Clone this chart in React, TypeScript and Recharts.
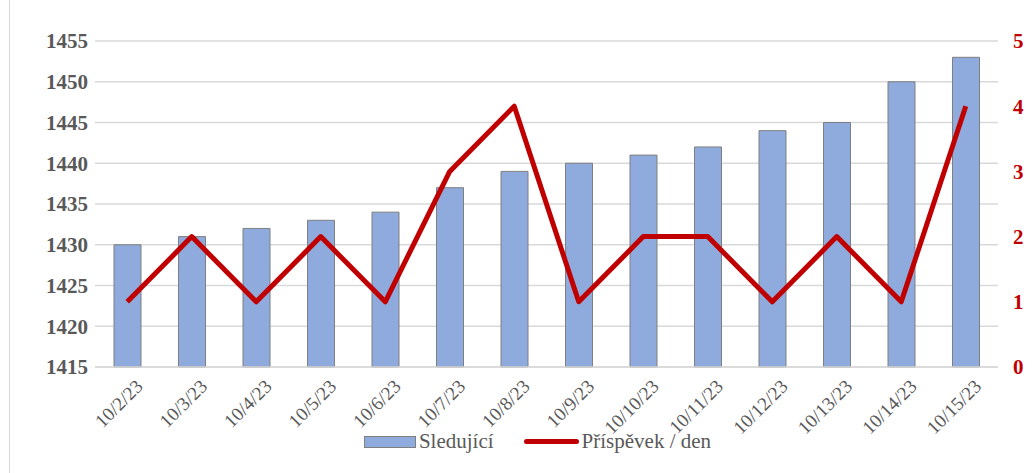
import { Bar, CartesianGrid, ComposedChart, Legend, Line, XAxis, YAxis } from "recharts";

const dates = ["10/2/23", "10/3/23", "10/4/23", "10/5/23", "10/6/23", "10/7/23", "10/8/23", "10/9/23", "10/10/23", "10/11/23", "10/12/23", "10/13/23", "10/14/23", "10/15/23"];
const followers = [1430, 1431, 1432, 1433, 1434, 1437, 1439, 1440, 1441, 1442, 1444, 1445, 1450, 1453];
const perDay = [1, 2, 1, 2, 1, 3, 4, 1, 2, 2, 1, 2, 1, 4];
const leftTicks = [1415, 1420, 1425, 1430, 1435, 1440, 1445, 1450, 1455];
const rightTicks = [0, 1, 2, 3, 4, 5];

const data = dates.map((d, i) => ({ d, followers: followers[i], perDay: perDay[i] }));

const font = "'Liberation Serif', 'DejaVu Serif', 'Times New Roman', Times, serif";
const grey = "#595959";
const red = "#C00000";

function DateTick({ x, y, payload }: any) {
  return (
    <text
      x={x + 12}
      y={y + 8}
      transform={`rotate(-45, ${x + 12}, ${y + 8})`}
      textAnchor="end"
      dominantBaseline="central"
      style={{ fontFamily: font, fontSize: 19, fill: grey }}
    >
      {payload.value}
    </text>
  );
}

function LegendBox({ payload }: any) {
  const items = [...(payload || [])].sort((a: any, b: any) => (a.type === "rect" ? -1 : b.type === "rect" ? 1 : 0));
  return (
    <div style={{ display: "flex", justifyContent: "center", gap: 30, fontFamily: font, fontSize: 21, color: grey, paddingLeft: 40 }}>
      {items.map((p: any) => (
        <div key={p.value} style={{ display: "flex", alignItems: "center", gap: 3 }}>
          {p.type === "rect" ? (
            <div style={{ width: 50, height: 10, background: "#8FAADC", border: "1px solid #7F7F7F" }} />
          ) : (
            <div style={{ width: 55, height: 5, background: red, borderRadius: 3 }} />
          )}
          <span>{p.value}</span>
        </div>
      ))}
    </div>
  );
}

export default function App() {
  return (
    <div style={{ position: "fixed", left: 0, top: 0, width: 1035, height: 473, background: "#fff", fontFamily: font }}>
      <div style={{ position: "absolute", left: 9, top: 0, width: 1, height: 473, background: "#D9D9D9" }} />
      <ComposedChart
        width={1035}
        height={473}
        data={data}
        margin={{ top: 41, right: 0, bottom: 14, left: 0 }}
        barCategoryGap={19}
      >
        <CartesianGrid vertical={false} stroke="#D9D9D9" strokeWidth={1.5} yAxisId="left" />
        <XAxis
          dataKey="d"
          interval={0}
          height={62}
          tick={<DateTick />}
          tickLine={false}
          axisLine={{ stroke: "#D9D9D9", strokeWidth: 1.5 }}
        />
        <YAxis
          yAxisId="left"
          width={95}
          domain={[1415, 1455]}
          ticks={leftTicks}
          axisLine={false}
          tickLine={false}
          tickSize={0}
          tickMargin={7}
          tick={{ fontSize: 21, fontWeight: "bold", fill: grey, style: { fontFamily: font } }}
        />
        <YAxis
          yAxisId="right"
          orientation="right"
          width={37}
          domain={[0, 5]}
          ticks={rightTicks}
          axisLine={false}
          tickLine={false}
          tickSize={0}
          tickMargin={15}
          tick={{ fontSize: 21, fontWeight: "bold", fill: red, style: { fontFamily: font } }}
        />
        <Legend verticalAlign="bottom" height={30} content={<LegendBox />} />
        <Bar
          yAxisId="left"
          dataKey="followers"
          name="Sledující"
          fill="#8FAADC"
          stroke="#7F7F7F"
          strokeWidth={1}
          legendType="rect"
          isAnimationActive={false}
        />
        <Line
          yAxisId="right"
          dataKey="perDay"
          name="Příspěvek / den"
          stroke={red}
          strokeWidth={5}
          dot={false}
          legendType="line"
          strokeLinejoin="round"
          isAnimationActive={false}
        />
      </ComposedChart>
    </div>
  );
}
